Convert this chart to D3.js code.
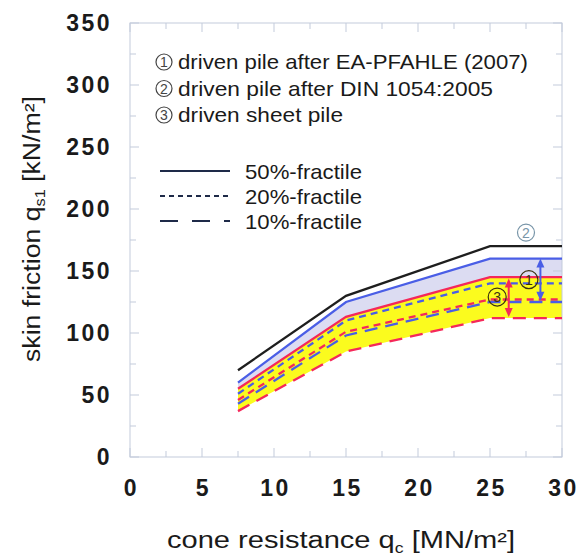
<!DOCTYPE html>
<html>
<head>
<meta charset="utf-8">
<script src="https://cdn.jsdelivr.net/npm/d3@7"></script>
<style>
  body { margin: 0; background: #fff; }
  svg text { font-family: "Liberation Sans", Arial, sans-serif; fill: #1a1a1a; }
</style>
</head>
<body>
<svg width="581" height="557"></svg>
<script>
// chart values
const qc = [7.5, 15, 25, 30];
const din50 = [70, 130, 170, 170];   // (2) DIN 1054:2005
const ea50 = [60, 125, 160, 160];    // (1) EA-PFAHLE 50%
const ea20 = [51, 110, 140, 140];    // (1) 20%
const ea10 = [43, 98, 125, 125];     // (1) 10%
const sp50 = [55, 113, 145, 145];    // (3) sheet pile 50%
const sp20 = [46, 101, 127, 127];    // (3) 20%
const sp10 = [37, 85, 112, 112];     // (3) 10%

const xTicks = [0, 5, 10, 15, 20, 25, 30];
const yTicks = [0, 50, 100, 150, 200, 250, 300, 350];
const notes = ["driven pile after EA-PFAHLE (2007)", "driven pile after DIN 1054:2005", "driven sheet pile"];
const fractiles = ["50%-fractile", "20%-fractile", "10%-fractile"];

const svg = d3.select("svg");
const x = d3.scaleLinear().domain([0, 30]).range([130, 562]);
const y = d3.scaleLinear().domain([0, 350]).range([457, 23]);

const blue = "#4a5ee6", red = "#f5285a", yellow = "#fbfb1e", lav = "#dcdcf2";

const pts = arr => arr.map((v, i) => [qc[i], v]);
const line = d3.line().x(d => x(d[0])).y(d => y(d[1]));
const band = (hi, lo) => d3.area().x((d, i) => x(qc[i])).y0((d, i) => y(lo[i])).y1((d, i) => y(hi[i]))(qc);

// fills
svg.append("path").attr("d", band(ea50, sp50)).attr("fill", lav);
svg.append("path").attr("d", band(sp50, sp10)).attr("fill", yellow);

// frame + inward ticks
const frame = "#c3cbdb";
svg.append("rect").attr("x", x(0)).attr("y", y(350)).attr("width", x(30) - x(0)).attr("height", y(0) - y(350))
  .attr("fill", "none").attr("stroke", frame);
d3.range(0, 30.1, 2.5).forEach(v => {
  const len = v % 5 === 0 ? 9 : 6;
  svg.append("line").attr("x1", x(v)).attr("x2", x(v)).attr("y1", y(0)).attr("y2", y(0) - len).attr("stroke", frame);
  svg.append("line").attr("x1", x(v)).attr("x2", x(v)).attr("y1", y(350)).attr("y2", y(350) + len).attr("stroke", frame);
});
d3.range(0, 350.1, 25).forEach(v => {
  const len = v % 50 === 0 ? 9 : 6;
  svg.append("line").attr("y1", y(v)).attr("y2", y(v)).attr("x1", x(0)).attr("x2", x(0) + len).attr("stroke", frame);
  svg.append("line").attr("y1", y(v)).attr("y2", y(v)).attr("x1", x(30)).attr("x2", x(30) - len).attr("stroke", frame);
});

// tick labels
svg.selectAll(".xt").data(xTicks).enter().append("text")
  .attr("x", d => x(d) + 1.5).attr("y", 496).attr("text-anchor", "middle")
  .attr("font-size", 23).attr("font-weight", "bold").attr("letter-spacing", 2.5).text(d => d);
svg.selectAll(".yt").data(yTicks).enter().append("text")
  .attr("x", 112).attr("y", d => y(d) + 8).attr("text-anchor", "end")
  .attr("font-size", 23).attr("font-weight", "bold").attr("letter-spacing", 2.5).text(d => d);

// axis titles
const xt = svg.append("text").attr("x", 167).attr("y", 548).attr("font-size", 23)
  .attr("textLength", 348).attr("lengthAdjust", "spacingAndGlyphs");
xt.append("tspan").text("cone resistance q");
xt.append("tspan").attr("font-size", 14).attr("dy", 5).text("c");
xt.append("tspan").attr("dy", -5).text(" [MN/m²]");

const yt = svg.append("text").attr("transform", "translate(40,362) rotate(-90)").attr("font-size", 23)
  .attr("textLength", 266).attr("lengthAdjust", "spacingAndGlyphs");
yt.append("tspan").text("skin friction q");
yt.append("tspan").attr("font-size", 14).attr("dy", 5).text("s1");
yt.append("tspan").attr("dy", -5).text(" [kN/m²]");

// data lines
const series = [
  { v: sp10, c: red, dash: "13,8" },
  { v: sp20, c: red, dash: "7,5" },
  { v: ea10, c: blue, dash: "13,8" },
  { v: ea20, c: blue, dash: "7,5" },
  { v: sp50, c: red, dash: null },
  { v: ea50, c: blue, dash: null },
  { v: din50, c: "#1e1e1e", dash: null }
];
series.forEach(s => {
  svg.append("path").attr("d", line(pts(s.v))).attr("fill", "none")
    .attr("stroke", s.c).attr("stroke-width", 2.3).attr("stroke-dasharray", s.dash);
});

// double arrows
function arrow(xv, top, bot, col) {
  const xp = x(xv), t = y(top), b = y(bot);
  svg.append("line").attr("x1", xp).attr("x2", xp).attr("y1", t + 6).attr("y2", b - 6)
    .attr("stroke", col).attr("stroke-width", 2);
  svg.append("path").attr("d", `M${xp},${t} L${xp - 4},${t + 9} L${xp + 4},${t + 9}Z`).attr("fill", col);
  svg.append("path").attr("d", `M${xp},${b} L${xp - 4},${b - 9} L${xp + 4},${b - 9}Z`).attr("fill", col);
}
arrow(28.5, 160, 126, blue);
arrow(26.3, 144, 113, red);

// circled markers in the plot
function mark(cx, cy, n, col, r) {
  svg.append("circle").attr("cx", cx).attr("cy", cy).attr("r", r).attr("fill", "none")
    .attr("stroke", col).attr("stroke-width", 1.2);
  svg.append("text").attr("x", cx).attr("y", cy + 5).attr("text-anchor", "middle")
    .attr("font-size", 14).style("fill", col).text(n);
}
mark(x(27.5), y(181), "2", "#7895a8", 8.5);
mark(x(27.7), y(143), "1", "#3a3010", 9);
mark(x(25.5), y(129), "3", "#3a3010", 9);

// legend notes
const noteLen = [350, 315, 165];
notes.forEach((t, i) => {
  const yy = 62 + i * 26.5;
  mark(164, yy, String(i + 1), "#444", 8);
  svg.append("text").attr("x", 178).attr("y", yy + 7).attr("font-size", 21)
    .attr("textLength", noteLen[i]).attr("lengthAdjust", "spacingAndGlyphs").text(t);
});

// fractile legend
const legDash = [null, "5,4", "18,14"];
fractiles.forEach((t, i) => {
  const yy = 171 + i * 25;
  svg.append("line").attr("x1", 160).attr("x2", 230).attr("y1", yy).attr("y2", yy)
    .attr("stroke", "#1e2a48").attr("stroke-width", 1.8).attr("stroke-dasharray", legDash[i]);
  svg.append("text").attr("x", 245).attr("y", yy + 8).attr("font-size", 21)
    .attr("textLength", 117).attr("lengthAdjust", "spacingAndGlyphs").text(t);
});
</script>
</body>
</html>
